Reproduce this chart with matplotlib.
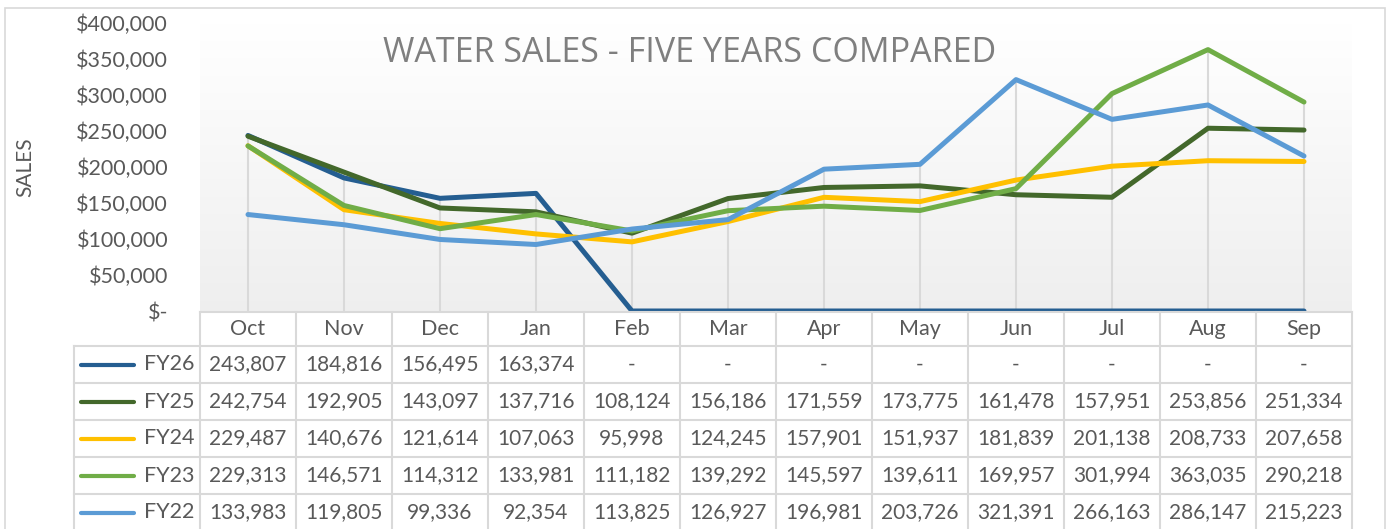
import numpy as np
import matplotlib.pyplot as plt
from matplotlib.lines import Line2D
from matplotlib.patches import Rectangle

months = ['Oct', 'Nov', 'Dec', 'Jan', 'Feb', 'Mar', 'Apr', 'May', 'Jun', 'Jul', 'Aug', 'Sep']
series_names = ['FY26', 'FY25', 'FY24', 'FY23', 'FY22']
fy26 = [243807, 184816, 156495, 163374, 0, 0, 0, 0, 0, 0, 0, 0]
fy25 = [242754, 192905, 143097, 137716, 108124, 156186, 171559, 173775, 161478, 157951, 253856, 251334]
fy24 = [229487, 140676, 121614, 107063, 95998, 124245, 157901, 151937, 181839, 201138, 208733, 207658]
fy23 = [229313, 146571, 114312, 133981, 111182, 139292, 145597, 139611, 169957, 301994, 363035, 290218]
fy22 = [133983, 119805, 99336, 92354, 113825, 126927, 196981, 203726, 321391, 266163, 286147, 215223]
y_ticks = [0, 50000, 100000, 150000, 200000, 250000, 300000, 350000, 400000]

all_series = [fy26, fy25, fy24, fy23, fy22]
colors = ['#255E91', '#43682B', '#FFC000', '#70AD47', '#5B9BD5']

W, H = 1387, 529
TXT = '#595959'
GRID = '#d9d9d9'
plt.rcParams['font.family'] = ['Lato', 'DejaVu Sans']


def fx(x):
    return x / W


def fy(y):
    return 1 - y / H


fig = plt.figure(figsize=(W / 100, H / 100), dpi=100)
fig.patch.set_facecolor('white')

# outer chart border
fig.add_artist(Rectangle((fx(5), fy(535)), fx(1385) - fx(5), fy(8) - fy(535),
                         transform=fig.transFigure, fill=False, ec=GRID, lw=1.2))

left, right, top, bottom = 200, 1352, 23, 311
ax = fig.add_axes([fx(left), fy(bottom), fx(right) - fx(left), fy(top) - fy(bottom)])
ax.set_xlim(-0.5, len(months) - 0.5)
ax.set_ylim(0, 400000)

# gradient fill of plot area
grad = np.linspace(1.0, 0.935, 256).reshape(-1, 1)
ax.imshow(np.dstack([grad, grad, grad]), extent=[-0.5, len(months) - 0.5, 0, 400000],
          aspect='auto', zorder=0, origin='upper')

x = np.arange(len(months))
# drop lines from highest point down to the axis
tops = np.max(np.array(all_series), axis=0)
ax.vlines(x, 0, tops, color=GRID, lw=1.5, zorder=1)

for vals, c in zip(all_series, colors):
    ax.plot(x, vals, color=c, lw=3.6, solid_joinstyle='round', solid_capstyle='round', zorder=3)

for s in ax.spines.values():
    s.set_visible(False)
ax.set_xticks([])
ax.set_yticks(y_ticks)
ax.set_yticklabels(['$-' if v == 0 else f'${v:,}' for v in y_ticks], color=TXT, fontsize=15.5)
ax.tick_params(axis='y', length=0, pad=23)
ax.set_ylabel('SALES', color=TXT, fontsize=15)
ax.yaxis.set_label_coords((35 - left) / (right - left), 0.5)

fig.text(fx(690), fy(53), 'WATER SALES - FIVE YEARS COMPARED', ha='center', va='center',
         color='#7f7f7f', fontsize=24.5, fontfamily=['Open Sans', 'DejaVu Sans'])

# data table
col_w = (right - left) / len(months)
row_edges = [312, 346, 383, 420, 457, 494, 531]
tbl_left = 74


def hline(y, x0, x1):
    fig.add_artist(Line2D([fx(x0), fx(x1)], [fy(y), fy(y)], transform=fig.transFigure, color=GRID, lw=1.5))


def vline(xp, y0, y1):
    fig.add_artist(Line2D([fx(xp), fx(xp)], [fy(y0), fy(y1)], transform=fig.transFigure, color=GRID, lw=1.5))


hline(row_edges[0], left, right)
for yy in row_edges[1:]:
    hline(yy, tbl_left, right)
vline(tbl_left, row_edges[1], row_edges[-1])
for i in range(len(months) + 1):
    vline(left + i * col_w, row_edges[0], row_edges[-1])

for i, m in enumerate(months):
    cx = left + (i + 0.5) * col_w
    fig.text(fx(cx), fy((row_edges[0] + row_edges[1]) / 2), m, ha='center', va='center',
             color=TXT, fontsize=15.5)

for r, (name, vals, c) in enumerate(zip(series_names, all_series, colors)):
    cy = (row_edges[r + 1] + row_edges[r + 2]) / 2
    fig.add_artist(Line2D([fx(81), fx(134)], [fy(cy), fy(cy)], transform=fig.transFigure,
                          color=c, lw=3, solid_capstyle='round'))
    fig.text(fx(144), fy(cy), name, ha='left', va='center', color=TXT, fontsize=15.5)
    for i, v in enumerate(vals):
        cx = left + (i + 0.5) * col_w
        fig.text(fx(cx), fy(cy), '-' if v == 0 else f'{v:,}', ha='center', va='center',
                 color=TXT, fontsize=15)

fig.savefig('out.png', dpi=100, facecolor='white')
